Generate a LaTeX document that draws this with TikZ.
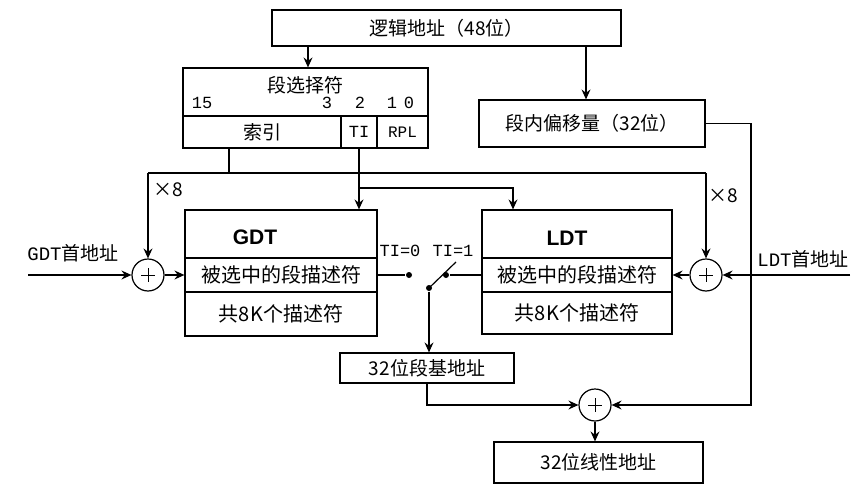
\documentclass[tikz,border=0pt]{standalone}
\usepackage{fontspec}
\setmainfont{Noto Sans CJK SC}
\newfontfamily\monof{Liberation Mono}
\newfontfamily\bsans{Liberation Sans}
\usetikzlibrary{arrows.meta,calc}
\begin{document}
\begin{tikzpicture}[x=1pt,y=-1pt,line width=1.2pt,
  box/.style={draw,rectangle,inner sep=0pt,font=\fontsize{19}{21}\selectfont},
  dbox/.style={box,font=\fontsize{20}{22}\selectfont},
  arr/.style={-{Stealth[length=10pt,width=9pt,inset=3.5pt]}},
  sumc/.style={draw,circle,minimum size=32pt,inner sep=0pt},
  dotn/.style={fill,circle,inner sep=0pt,minimum size=6pt},
  mlbl/.style={inner sep=0pt,font=\monof\fontsize{17}{19}\selectfont},
  cjk/.style={inner sep=0pt,font=\fontsize{19}{21}\selectfont},
  big/.style={inner sep=0pt,font=\bsans\bfseries\fontsize{21}{24}\selectfont}]
\useasboundingbox (0,0) rectangle (851,487);
% boxes
\node[box,minimum width=349pt,minimum height=36pt] (la) at (446.5,28) {逻辑地址（48位）};
\node[box,minimum width=245pt,minimum height=48pt] (sel) at (305.5,92) {};
\node[box,minimum width=158pt,minimum height=32pt] (idx) at (262,132) {索引};
\node[box,minimum width=36pt,minimum height=32pt,font=\monof\fontsize{17}{19}\selectfont] (ti) at (359,132) {TI};
\node[box,minimum width=51pt,minimum height=32pt,font=\monof\fontsize{16}{18}\selectfont] (rpl) at (402.5,132) {RPL};
\node[box,minimum width=226pt,minimum height=47pt] (off) at (592,123.5) {段内偏移量（32位）};
\node[box,minimum width=192pt,minimum height=48pt] (gdtH) at (281,234) {};
\node[dbox,minimum width=192pt,minimum height=34pt] (gdtS) at (281,275) {被选中的段描述符};
\node[dbox,minimum width=192pt,minimum height=44pt] (gdtA) at (281,314) {共8K个描述符};
\node[box,minimum width=190pt,minimum height=48pt] (ldtH) at (577,234) {};
\node[dbox,minimum width=190pt,minimum height=34pt] (ldtS) at (577,275) {被选中的段描述符};
\node[dbox,minimum width=190pt,minimum height=42pt] (ldtA) at (577,313) {共8K个描述符};
\node[box,minimum width=174pt,minimum height=30pt] (base) at (427,368) {32位段基地址};
\node[box,minimum width=209pt,minimum height=41pt] (lin) at (598.5,462.5) {32位线性地址};
% adders
\node[sumc] (pl) at (148,275) {};
\node[sumc] (pr) at (706,275) {};
\node[sumc] (pb) at (595,405) {};
\foreach \c in {pl,pr,pb}
  \draw[line width=0.8pt] ($(\c)+(-7,0)$) -- ($(\c)+(7,0)$) ($(\c)+(0,-7)$) -- ($(\c)+(0,7)$);
% switch
\node[dotn] (d0) at (409,275) {};
\node[dotn] (d1) at (446,275) {};
\node[dotn] (piv) at (429,288) {};
\coordinate (lev) at (456,262);
% labels
\node[cjk] (selt) at (305.5,85) {段选择符};
\node[mlbl] (b15) at (202,103) {15};
\node[mlbl] (b3) at (327,103) {3};
\node[mlbl] (b2) at (360,103) {2};
\node[mlbl] (b1) at (392,103) {1};
\node[mlbl] (b0) at (409,103) {0};
\node[cjk] (x8l) at (168,190) {×8};
\node[cjk] (x8r) at (723,196) {×8};
\node[cjk] (gl) at (73,253) {{\monof GDT}首地址};
\node[cjk] (ll) at (803,259) {{\monof LDT}首地址};
\node[mlbl] (t0) at (400,251) {TI=0};
\node[mlbl] (t1) at (453,251) {TI=1};
\node[big] (gt) at (255,237) {GDT};
\node[big] (lt) at (567,238) {LDT};
% coordinates
\coordinate (xa) at (308,0);
\coordinate (xb) at (586,0);
\coordinate (rr) at (751,405);
\coordinate (ix) at (229,173);
\coordinate (xl) at (148,173);
\coordinate (xr) at (706,173);
\coordinate (tb) at (359,188);
\coordinate (tl) at (513,188);
\coordinate (gin) at (28,275);
\coordinate (rin) at (850,275);
% connectors
\draw[arr] (la.south -| xa) -- (sel.north -| xa);
\draw[arr] (la.south -| xb) -- (off.north -| xb);
\draw[arr] (off.east) -| (rr) -- (pb.east);
\draw (idx.south -| ix) -- (ix);
\draw (xl) -- (xr);
\draw[arr] (xl) -- (pl);
\draw[arr] (xr) -- (pr);
\draw[arr] (ti.south) -- (gdtH.north -| ti.south);
\draw[arr] (tb) -- (tl) -- (ldtH.north -| tl);
\draw[arr] (gin) -- (pl);
\draw[arr] (pl) -- (gdtS.west);
\draw[arr] (rin) -- (pr);
\draw[arr] (pr) -- (ldtS.east);
\draw (gdtS.east) -- (d0);
\draw (ldtS.west) -- (d1);
\draw (piv.center) -- (lev);
\draw[arr] (piv) -- (base.north -| piv);
\draw[arr] (base.south) |- (pb.west);
\draw[arr] (pb) -- (lin.north -| pb);
\end{tikzpicture}
\end{document}
